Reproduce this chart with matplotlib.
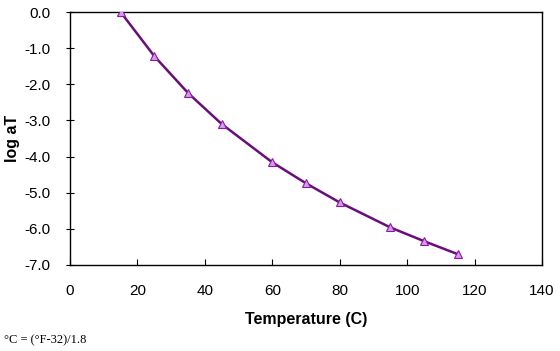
import matplotlib
matplotlib.use("Agg")
import matplotlib.pyplot as plt

temps = [15, 25, 35, 45, 60, 70, 80, 95, 105, 115]
log_at = [0.0, -1.22, -2.24, -3.10, -4.16, -4.74, -5.27, -5.96, -6.34, -6.70]
x_ticks = [0, 20, 40, 60, 80, 100, 120, 140]
y_ticks = [0.0, -1.0, -2.0, -3.0, -4.0, -5.0, -6.0, -7.0]

plt.rcParams['font.family'] = ['Liberation Sans', 'DejaVu Sans']

fig = plt.figure(figsize=(5.6, 3.51), dpi=100)
ax = fig.add_axes([70/560, 1-265/351, (542-70)/560, (265-12)/351])

ax.plot(temps, log_at, color='#6A0D7A', lw=1.8, marker='^', ms=5.5,
        mfc='#D59BF0', mec='#8B1A9E', mew=0.8, zorder=3)

ax.set_xlim(0, 140)
ax.set_ylim(-7, 0)
ax.set_xticks(x_ticks)
ax.set_xticklabels([str(v) for v in x_ticks])
ax.set_yticks(y_ticks)
ax.set_yticklabels([f"{v:.1f}" for v in y_ticks])
ax.tick_params(axis='x', direction='in', length=4, width=0.8, labelsize=11, pad=14)
ax.tick_params(axis='y', direction='inout', length=6, width=0.8, labelsize=11, pad=11)
for s in ax.spines.values():
    s.set_linewidth(1.0)
    s.set_color('black')

ax.set_xlabel('Temperature (C)', fontsize=11.5, fontweight='bold', labelpad=10)
fig.text(13/560, 1-138/351, 'log aT', fontsize=11.5, fontweight='bold',
         rotation=90, ha='center', va='center')

fig.text(4/560, 1-340/351, '°C = (°F-32)/1.8', fontsize=9,
         family=['Liberation Serif', 'DejaVu Serif'], va='center', ha='left')

fig.savefig('out.png', dpi=100)
